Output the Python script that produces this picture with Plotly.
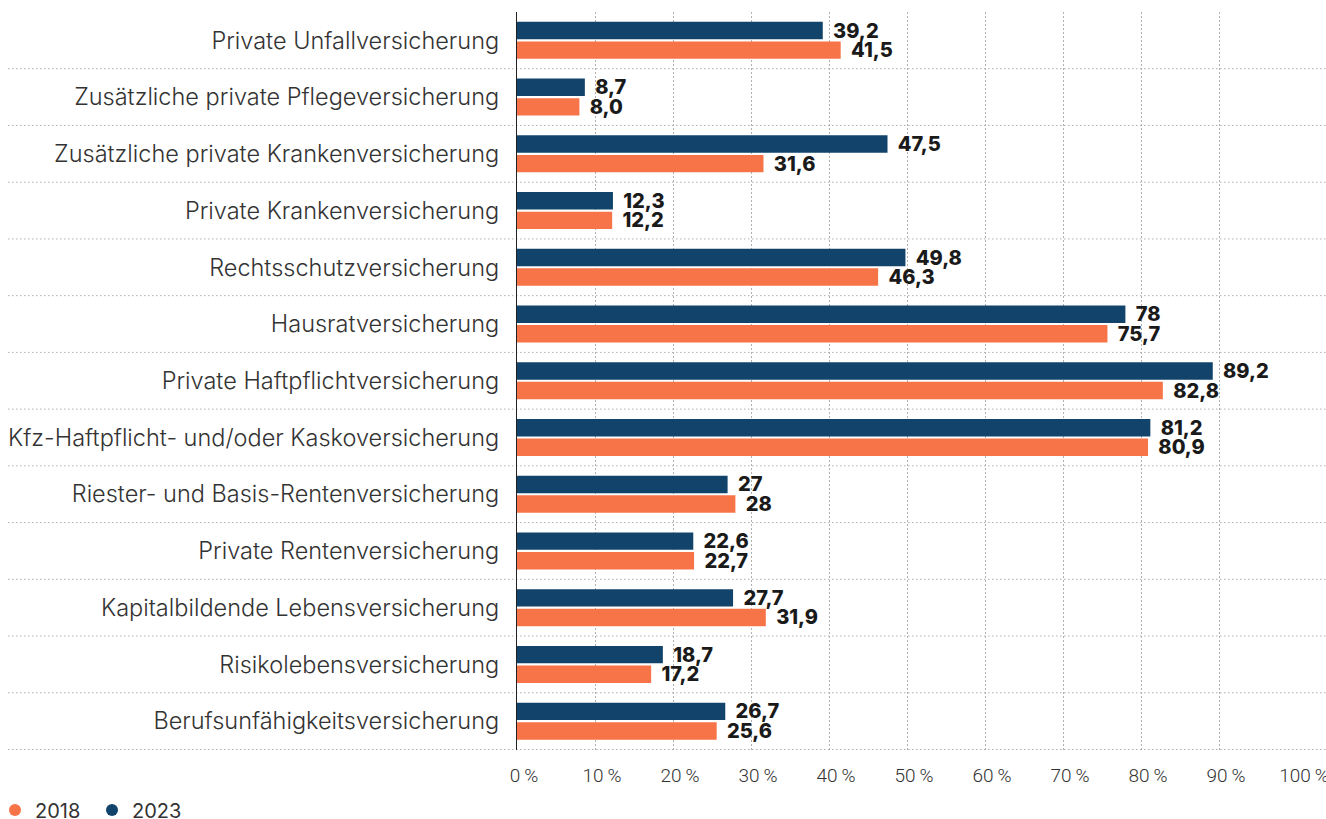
import plotly.graph_objects as go

categories = [
    "Private Unfallversicherung",
    "Zusätzliche private Pflegeversicherung",
    "Zusätzliche private Krankenversicherung",
    "Private Krankenversicherung",
    "Rechtsschutzversicherung",
    "Hausratversicherung",
    "Private Haftpflichtversicherung",
    "Kfz-Haftpflicht- und/oder Kaskoversicherung",
    "Riester- und Basis-Rentenversicherung",
    "Private Rentenversicherung",
    "Kapitalbildende Lebensversicherung",
    "Risikolebensversicherung",
    "Berufsunfähigkeitsversicherung",
]
values_2023 = [39.2, 8.7, 47.5, 12.3, 49.8, 78, 89.2, 81.2, 27, 22.6, 27.7, 18.7, 26.7]
labels_2023 = ["39,2", "8,7", "47,5", "12,3", "49,8", "78", "89,2", "81,2", "27", "22,6", "27,7", "18,7", "26,7"]
values_2018 = [41.5, 8.0, 31.6, 12.2, 46.3, 75.7, 82.8, 80.9, 28, 22.7, 31.9, 17.2, 25.6]
labels_2018 = ["41,5", "8,0", "31,6", "12,2", "46,3", "75,7", "82,8", "80,9", "28", "22,7", "31,9", "17,2", "25,6"]
x_ticks = [0, 10, 20, 30, 40, 50, 60, 70, 80, 90, 100]
x_ticktext = [f"{t}\u2009%" for t in x_ticks]

NAVY = "#12446b"
ORANGE = "#f77448"
TEXT = "#333333"
GRID = "#b0b0b0"
FONT = "Inter, Roboto, sans-serif"
DOT = "1.5px,2.5px"
PAD = "\u00a0\u2009"

W, H = 1326, 819
ML, MR, MT, MB = 517, 29, 12, 69
plot_w = W - ML - MR
plot_h = H - MT - MB

fig = go.Figure()
value_font = dict(family=FONT, size=20, color="#1a1a1a", weight=800)

fig.add_trace(go.Bar(
    y=categories, x=values_2023, orientation="h", name="2023",
    marker=dict(color=NAVY, line=dict(width=0)),
    text=[PAD + s for s in labels_2023], textposition="outside",
    textfont=value_font, cliponaxis=False, constraintext="none", showlegend=False,
    hoverinfo="x+y",
))
fig.add_trace(go.Bar(
    y=categories, x=values_2018, orientation="h", name="2018",
    marker=dict(color=ORANGE, line=dict(width=0)),
    text=[PAD + s for s in labels_2018], textposition="outside",
    textfont=value_font, cliponaxis=False, constraintext="none", showlegend=False,
    hoverinfo="x+y",
))
# legend entries as dots
fig.add_trace(go.Scatter(x=[None], y=[None], mode="markers", name="2018",
                         marker=dict(color=ORANGE, size=12, symbol="circle"), legendrank=1))
fig.add_trace(go.Scatter(x=[None], y=[None], mode="markers", name="2023",
                         marker=dict(color=NAVY, size=12, symbol="circle"), legendrank=2))

# horizontal dotted separators spanning the full width
shapes = []
x_left = (8 - ML) / plot_w
x_right = (W - ML) / plot_w
for i in range(len(categories)):
    yb = i + 0.5
    shapes.append(dict(type="line", xref="paper", yref="y", x0=x_left, x1=x_right,
                       y0=yb, y1=yb, line=dict(color=GRID, width=1, dash=DOT), layer="below"))

fig.update_layout(
    width=W, height=H,
    margin=dict(l=ML, r=MR, t=MT, b=MB, autoexpand=False),
    paper_bgcolor="white", plot_bgcolor="white",
    barmode="group", bargap=0.31, bargroupgap=0.11,
    font=dict(family=FONT, color=TEXT),
    shapes=shapes,
    showlegend=True,
    legend=dict(orientation="h", x=(-5 - ML) / plot_w, xanchor="left",
                y=-(810 - (H - MB)) / plot_h, yanchor="middle",
                font=dict(family=FONT, size=20, color=TEXT),
                itemsizing="constant", itemwidth=30, tracegroupgap=0,
                entrywidth=52, entrywidthmode="pixels",
                bgcolor="rgba(0,0,0,0)"),
    xaxis=dict(range=[0, 100], tickvals=x_ticks, ticktext=x_ticktext,
               showgrid=True, gridcolor=GRID, griddash=DOT, gridwidth=1,
               zeroline=False, showline=False, ticks="",
               tickfont=dict(family="Roboto, sans-serif", size=19, color=TEXT, weight=300),
               ticklabelshift=7, ticklabelstandoff=12, ticklabeloverflow="allow",
               fixedrange=True),
    yaxis=dict(type="category", categoryorder="array", categoryarray=categories,
               autorange="reversed", showgrid=False, zeroline=False,
               showline=True, linecolor="#222222", linewidth=1.3, ticks="",
               tickfont=dict(family=FONT, size=23.5, color=TEXT, weight=300),
               ticklabelstandoff=12, fixedrange=True),
)

fig.write_html("out.html", config={"displayModeBar": False},
               post_script="document.body.style.margin='0';")
